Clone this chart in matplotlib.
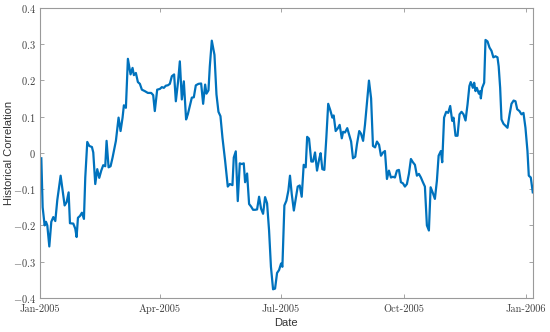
import matplotlib
matplotlib.use('Agg')
import matplotlib.pyplot as plt
import matplotlib.dates as mdates
from matplotlib.ticker import FuncFormatter
import pandas as pd

# days since 2005-01-01 and the rolling correlation
days = [1, 2, 3.5, 4.5, 5.5, 7, 8.5, 10, 11.5, 13, 15.5, 17, 18.5, 20, 21.5, 22.5, 25, 26.5, 27.5, 28.5,
        30, 31.5, 33, 34, 35.5, 37, 39, 40, 41.5, 43, 44.5, 46, 47.5, 49, 50, 51.5, 53, 54.5, 57, 59,
        60.5, 62, 63, 64.5, 66, 68, 69.5, 70.5, 72, 73.5, 75, 76.5, 78.7, 81, 83.5, 85, 86.2, 88, 90, 91.5,
        93, 94.5, 96, 97.5, 99, 100.7, 102, 103.7, 105, 106.5, 108, 109.7, 111, 112.5, 114, 115.5, 117, 119, 121, 122.5,
        124, 125, 126.5, 127.5, 129, 131, 132.5, 134, 135.5, 137, 139, 141, 142.5, 144.5, 145.5, 147, 148.5, 150, 151.5, 153,
        154, 155.5, 157, 158.5, 160, 161.5, 163, 164.5, 166, 167.5, 169, 170.5, 172, 173.4, 175, 176.5, 178, 179.5, 181, 182,
        183.5, 185, 186.5, 187.7, 189, 190.6, 192, 193.5, 195, 196.5, 198, 199.5, 200.6, 202, 203.7, 205, 206.5, 208, 209.7, 210.7,
        212, 213.5, 215, 216.4, 218, 219.5, 220.5, 222, 223.7, 225, 226.6, 227.6, 229, 230.7, 232, 233.6, 235, 236.7, 238, 239.7,
        241, 242.6, 244, 245.6, 247, 248.6, 250, 251.6, 253, 254.6, 256, 257.6, 259, 260.5, 262, 263.5, 265, 266.5, 268, 269.5,
        271, 272.5, 274, 275.5, 277, 278.5, 280, 281.5, 283, 284.5, 286, 287.5, 289, 290.5, 292, 293.3, 295, 296.5, 298, 299.3,
        301, 302, 303.4, 305, 306.5, 308, 309.5, 310.5, 312, 313.5, 315, 316.5, 318, 319.5, 321, 322.4, 323.4, 325, 326, 327,
        328, 329.5, 330.5, 331, 332, 333.5, 334.5, 336, 337.5, 339, 340.4, 342, 343.5, 344.4, 345.5, 346.5, 348, 349.6, 351, 352.6,
        354, 355.6, 357, 358.3, 360, 361.5, 363, 364.5, 366, 367, 368.5, 370]
corr = [-0.015, -0.15, -0.20, -0.19, -0.20, -0.258, -0.19, -0.177, -0.188, -0.13, -0.063, -0.104, -0.145, -0.136, -0.109, -0.194, -0.195, -0.209, -0.232, -0.179,
        -0.174, -0.165, -0.182, -0.068, 0.030, 0.019, 0.016, 0.001, -0.086, -0.045, -0.069, -0.049, -0.034, -0.037, 0.033, -0.040, -0.037, -0.013, 0.033, 0.097,
        0.060, 0.097, 0.131, 0.124, 0.259, 0.216, 0.234, 0.214, 0.22, 0.195, 0.19, 0.174, 0.170, 0.165, 0.165, 0.159, 0.115, 0.174, 0.176, 0.181,
        0.179, 0.185, 0.186, 0.19, 0.211, 0.216, 0.142, 0.197, 0.252, 0.147, 0.197, 0.092, 0.106, 0.129, 0.152, 0.153, 0.186, 0.19, 0.191, 0.135,
        0.188, 0.163, 0.172, 0.238, 0.309, 0.27, 0.161, 0.113, 0.101, 0.042, -0.022, -0.093, -0.086, -0.089, -0.013, 0.004, -0.133, -0.029, -0.031, -0.029,
        -0.081, -0.057, -0.141, -0.148, -0.157, -0.157, -0.156, -0.121, -0.154, -0.168, -0.122, -0.139, -0.214, -0.314, -0.376, -0.374, -0.331, -0.323, -0.305, -0.314,
        -0.145, -0.132, -0.104, -0.063, -0.113, -0.159, -0.127, -0.093, -0.09, -0.121, -0.033, -0.04, 0.044, 0.039, -0.024, -0.024, 0.001, -0.049, -0.016, -0.001,
        -0.045, -0.047, 0.042, 0.135, 0.117, 0.097, 0.103, 0.060, 0.068, 0.077, 0.040, 0.058, 0.056, 0.068, 0.051, 0.031, -0.015, -0.011, 0.024, 0.060,
        0.053, 0.033, 0.077, 0.142, 0.199, 0.15, 0.019, 0.015, 0.031, 0.022, -0.008, 0.001, 0.005, -0.072, -0.049, -0.068, -0.066, -0.068, -0.049, -0.047,
        -0.081, -0.084, -0.093, -0.086, -0.058, -0.017, -0.026, -0.033, -0.063, -0.058, -0.068, -0.081, -0.093, -0.2, -0.214, -0.095, -0.111, -0.127, -0.077, -0.008,
        0.005, -0.026, 0.097, 0.113, 0.11, 0.129, 0.088, 0.097, 0.047, 0.047, 0.106, 0.113, 0.106, 0.089, 0.133, 0.184, 0.195, 0.179, 0.193, 0.17,
        0.179, 0.163, 0.17, 0.15, 0.179, 0.193, 0.311, 0.307, 0.29, 0.281, 0.263, 0.266, 0.263, 0.238, 0.179, 0.092, 0.080, 0.074, 0.069, 0.106,
        0.135, 0.144, 0.142, 0.12, 0.115, 0.106, 0.11, 0.069, 0.005, -0.063, -0.068, -0.109]

tick_dates = ['2005-01-01', '2005-04-01', '2005-07-01', '2005-10-01', '2006-01-01']
tick_labels = ['Jan-2005', 'Apr-2005', 'Jul-2005', 'Oct-2005', 'Jan-2006']
yticks = [-0.4, -0.3, -0.2, -0.1, 0, 0.1, 0.2, 0.3, 0.4]

plt.rcParams['mathtext.fontset'] = 'cm'
plt.rcParams['axes.unicode_minus'] = False

start = mdates.date2num(pd.Timestamp('2005-01-01'))
x = [start + d for d in days]

fig = plt.figure(figsize=(5.5, 3.32), dpi=100)
ax = fig.add_axes([0.0727, 0.1024, 0.896, 0.8746])
ax.plot(x, corr, color='#0072BD', lw=1.6)

ax.set_xlim(start, start + 370)
ax.set_ylim(-0.4, 0.4)
ax.set_xticks([mdates.date2num(pd.Timestamp(d)) for d in tick_dates])
ax.set_xticklabels(tick_labels, family='cmr10', fontsize=7.5, color='#404040')
ax.set_yticks(yticks)
ax.yaxis.set_major_formatter(FuncFormatter(lambda v, p: '$%g$' % round(v, 2)))
for lab in ax.get_yticklabels():
    lab.set_fontsize(7.5)
    lab.set_color('#404040')

ax.tick_params(direction='in', length=3, width=0.5, color='#808080',
               top=True, right=True)
ax.tick_params(axis='x', pad=4.5)
ax.tick_params(axis='y', pad=3)
for s in ax.spines.values():
    s.set_color('#9a9a9a')
    s.set_linewidth(0.8)

ax.set_ylabel('Historical Correlation', family='Liberation Sans', fontsize=8, color='#333333')
ax.yaxis.set_label_coords(-0.052, 0.5)
ax.set_xlabel('Date', family='Liberation Sans', fontsize=8, color='#333333', labelpad=3)

fig.savefig('out.png', dpi=100)
